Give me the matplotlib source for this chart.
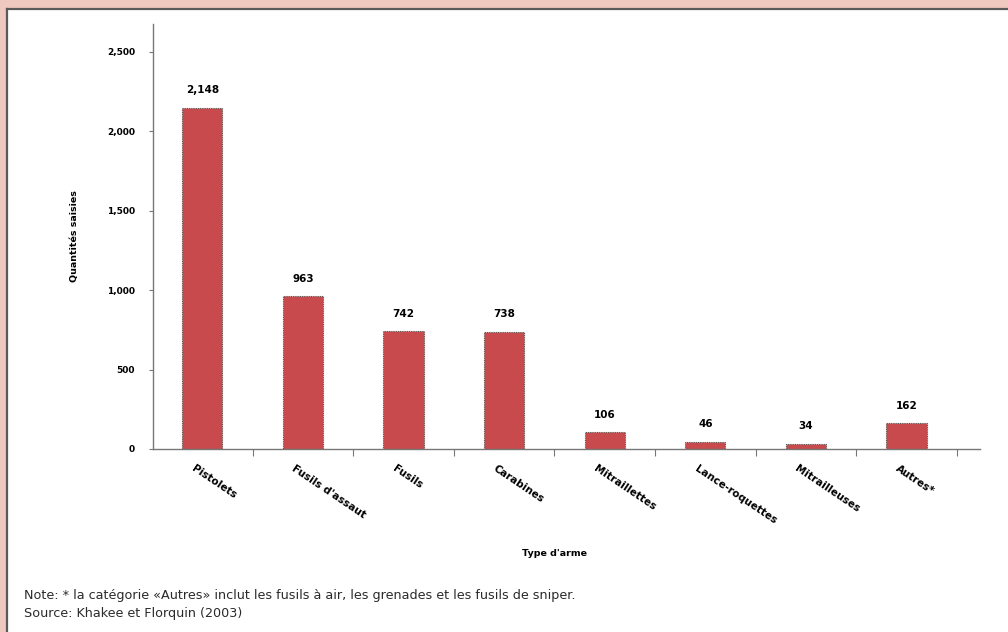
import matplotlib.pyplot as plt
from matplotlib.patches import Rectangle
from matplotlib.ticker import FixedLocator, FuncFormatter

categories = ['Pistolets', "Fusils d'assaut", 'Fusils', 'Carabines',
              'Mitraillettes', 'Lance-roquettes', 'Mitrailleuses', 'Autres*']
quantities = [2148, 963, 742, 738, 106, 46, 34, 162]
yticks = [0, 500, 1000, 1500, 2000, 2500]

note = "Note: * la catégorie «Autres» inclut les fusils à air, les grenades et les fusils de sniper."
source = "Source: Khakee et Florquin (2003)"

pink = '#efc9c0'
red = '#c94a4c'

fig = plt.figure(figsize=(10.08, 6.32), dpi=100)
fig.patch.set_facecolor('white')

# pink frame along the top and left, with a grey rule
fig.patches.append(Rectangle((0, 1 - 8/632), 1, 8/632, transform=fig.transFigure,
                             facecolor=pink, edgecolor='none', zorder=0))
fig.patches.append(Rectangle((0, 0), 6/1008, 1, transform=fig.transFigure,
                             facecolor=pink, edgecolor='none', zorder=0))
fig.lines.append(plt.Line2D([6.5/1008, 1], [1 - 8.5/632, 1 - 8.5/632],
                            transform=fig.transFigure, color='#5a5a5a', lw=1.6))
fig.lines.append(plt.Line2D([6.5/1008, 6.5/1008], [0, 1 - 8.5/632],
                            transform=fig.transFigure, color='#5a5a5a', lw=1.6))

ax = fig.add_axes([153/1008, 1 - 449/632, (980 - 153)/1008, (449 - 24)/632])
x = list(range(len(categories)))
bars = ax.bar(x, quantities, width=0.4, color=red, edgecolor='#555555',
              linewidth=0.8, linestyle=(0, (1, 1)))

for xi, q in zip(x, quantities):
    ax.annotate(f'{q:,}', (xi, q), xytext=(0, 9), textcoords='offset points',
                ha='center', va='bottom', fontsize=7.5, fontweight='bold')

ax.set_xlim(-0.49, 7.73)
ax.set_ylim(0, 2676)

for side in ['top', 'right']:
    ax.spines[side].set_visible(False)
for side in ['left', 'bottom']:
    ax.spines[side].set_color('#777777')
    ax.spines[side].set_linestyle((0, (1.5, 1)))
    ax.spines[side].set_linewidth(1.0)

ax.yaxis.set_major_locator(FixedLocator(yticks))
ax.yaxis.set_major_formatter(FuncFormatter(lambda v, p: f'{int(v):,}'))
ax.tick_params(axis='y', length=3, width=0.8, color='#777777', pad=10,
               labelsize=6.5)
for lbl in ax.get_yticklabels():
    lbl.set_fontweight('bold')

# ticks sit between categories; names are placed by hand below
ax.set_xticks([i + 0.5 for i in x])
ax.set_xticklabels([])
ax.tick_params(axis='x', length=5, width=0.8, color='#777777', direction='out')
for xi, name in zip(x, categories):
    ax.text(xi - 0.07, -90, name, rotation=-34, rotation_mode='anchor',
            ha='left', va='top', fontsize=7.5, fontweight='bold',
            transform=ax.transData, clip_on=False)

ax.set_ylabel('Quantités saisies', fontsize=6.8, fontweight='bold', labelpad=20)
fig.text(555/1008, 1 - 553/632, "Type d'arme", ha='center', va='center',
         fontsize=6.8, fontweight='bold')

fig.text(24/1008, 1 - 595/632, note, ha='left', va='center', fontsize=9.2,
         family='DejaVu Sans', color='#2a2a2a')
fig.text(24/1008, 1 - 614/632, source, ha='left', va='center', fontsize=9.2,
         family='DejaVu Sans', color='#2a2a2a')

fig.savefig('out.png', dpi=100)
